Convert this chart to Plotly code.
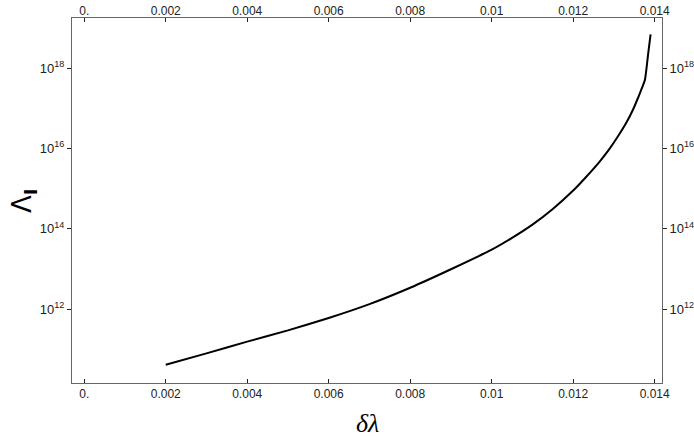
import plotly.graph_objects as go

# delta lambda values
delta_lambda = [0.0020, 0.0030, 0.0040, 0.0050, 0.0060, 0.0070, 0.0080, 0.0090,
                0.0100, 0.0105, 0.0110, 0.0115, 0.0120, 0.0123, 0.01265, 0.0129,
                0.0131, 0.0133, 0.01347, 0.0136, 0.01376, 0.01384, 0.01390]
# Lambda_I (log-scale axis)
lambda_I = [4.1e10, 7.9e10, 1.55e11, 2.95e11, 6.0e11, 1.33e12, 3.4e12, 9.8e12,
            3.0e13, 5.9e13, 1.26e14, 3.1e14, 8.9e14, 1.86e15, 4.7e15, 1.0e16,
            2.0e16, 4.27e16, 9.3e16, 1.9e17, 5.0e17, 2.24e18, 6.9e18]

x_ticks = [0.0, 0.002, 0.004, 0.006, 0.008, 0.010, 0.012, 0.014]
x_tick_text = ["0.", "0.002", "0.004", "0.006", "0.008", "0.01", "0.012", "0.014"]
y_ticks = [1e12, 1e14, 1e16, 1e18]
y_tick_text = ["10<sup>12</sup>", "10<sup>14</sup>", "10<sup>16</sup>", "10<sup>18</sup>"]

x_range = [-0.0003, 0.01418]
y_range = [10.16, 19.245]

FONT = "Liberation Sans, Arial, sans-serif"
x_font = dict(family=FONT, size=12, color="#222222")
y_font = dict(family=FONT, size=13, color="#222222")

fig = go.Figure()
fig.add_trace(go.Scatter(
    x=delta_lambda, y=lambda_I, mode="lines",
    line=dict(color="black", width=2, shape="spline", smoothing=0.4),
    hoverinfo="skip", showlegend=False,
))
# invisible copy so the top / right axes get drawn
fig.add_trace(go.Scatter(
    x=delta_lambda, y=lambda_I, mode="lines",
    line=dict(color="rgba(0,0,0,0)", width=0),
    xaxis="x2", yaxis="y2", hoverinfo="skip", showlegend=False,
))

common_x = dict(range=x_range, tickvals=x_ticks, ticktext=x_tick_text,
                ticks="inside", ticklen=4, tickcolor="#222222", tickfont=x_font,
                showgrid=False, zeroline=False, automargin=False)
common_y = dict(type="log", range=y_range, tickvals=y_ticks, ticktext=y_tick_text,
                ticks="outside", ticklen=4, tickcolor="#222222", tickfont=y_font,
                showgrid=False, zeroline=False, automargin=False)

fig.update_layout(
    width=694, height=441,
    margin=dict(l=72, r=32, t=18, b=58),
    plot_bgcolor="white", paper_bgcolor="white",
    showlegend=False,
    hovermode=False,
    xaxis=dict(**common_x, showline=True, linecolor="#666666", linewidth=1, mirror=True),
    xaxis2=dict(**common_x, overlaying="x", side="top", showline=False),
    yaxis=dict(**common_y, showline=True, linecolor="#666666", linewidth=1, mirror=True),
    yaxis2=dict(**common_y, overlaying="y", side="right", showline=False),
    annotations=[
        dict(text="<i>δλ</i>", xref="paper", yref="paper", x=0.5, y=-0.11,
             xanchor="center", yanchor="middle", showarrow=False,
             font=dict(family="Liberation Serif, Times New Roman, serif", size=26, color="black")),
        dict(text="Λ<sub><b>I</b></sub>", xref="paper", yref="paper", x=-0.082, y=0.5,
             xanchor="center", yanchor="middle", showarrow=False, textangle=-90,
             font=dict(family="DejaVu Sans, sans-serif", size=26, color="black")),
    ],
)

# drop the default page margin so the figure sits at the window's corner
fig.write_html("out.html", config={"displayModeBar": False},
               post_script="document.body.style.margin='0';")
